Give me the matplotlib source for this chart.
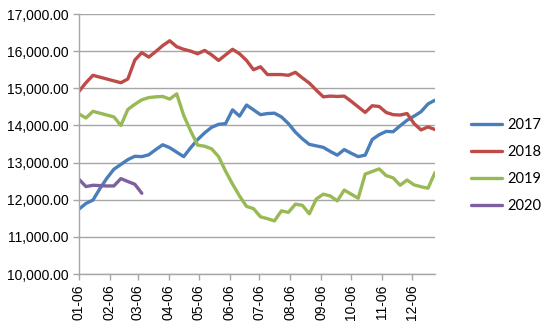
import matplotlib
matplotlib.use("Agg")
import matplotlib.pyplot as plt
import matplotlib.dates as mdates
import pandas as pd

# Weekly price series, one value per week starting 6 January
weeks = pd.date_range("2019-01-06", periods=52, freq="7D")

y2017 = [11745, 11900, 11990, 12300, 12580, 12820, 12950, 13080, 13170, 13160,
         13210, 13350, 13480, 13400, 13280, 13160, 13400, 13620, 13800, 13950,
         14030, 14050, 14420, 14250, 14550, 14420, 14290, 14320, 14330, 14230,
         14050, 13820, 13640, 13490, 13450, 13410, 13300, 13200, 13350, 13250,
         13160, 13200, 13620, 13750, 13840, 13830, 13990, 14140, 14250, 14370,
         14580, 14680]
y2018 = [14917, 15150, 15350, 15300, 15250, 15200, 15150, 15250, 15760, 15960,
         15840, 15990, 16150, 16280, 16120, 16050, 16000, 15930, 16020, 15900,
         15750, 15900, 16050, 15930, 15750, 15500, 15580, 15370, 15370, 15370,
         15350, 15430, 15280, 15140, 14950, 14770, 14790, 14780, 14790, 14650,
         14500, 14350, 14530, 14510, 14350, 14290, 14280, 14320, 14050, 13880,
         13960, 13890]
y2019 = [14310, 14200, 14380, 14330, 14280, 14230, 14000, 14430, 14570, 14690,
         14750, 14770, 14780, 14710, 14850, 14270, 13850, 13470, 13440, 13370,
         13160, 12770, 12420, 12100, 11820, 11760, 11540, 11490, 11430, 11700,
         11660, 11880, 11850, 11620, 12020, 12150, 12100, 11970, 12260, 12150,
         12040, 12690, 12760, 12830, 12650, 12590, 12390, 12530, 12400, 12350,
         12310, 12730]
y2020 = [12549, 12354, 12389, 12380, 12370, 12371, 12568, 12490, 12416, 12174]

series = [("2017", y2017, "#4A7EBB"),
          ("2018", y2018, "#BE4B48"),
          ("2019", y2019, "#98B954"),
          ("2020", y2020, "#7D60A0")]

# Sixth day of every month
month_ticks = [pd.Timestamp(2019, m, 6) for m in range(1, 13)]

fig = plt.figure(figsize=(5.5, 3.26), dpi=100)
ax = fig.add_axes([0.1436, 0.1595, 0.6473, 0.7975])

for name, vals, color in series:
    ax.plot(weeks[:len(vals)], vals, color=color, lw=2.4, label=name,
            solid_joinstyle="round", solid_capstyle="round")

ax.set_ylim(10000, 17000)
ax.set_yticks(range(10000, 17001, 1000))
ax.yaxis.set_major_formatter(matplotlib.ticker.FuncFormatter(lambda v, p: f"{v:,.2f}"))
ax.set_xlim(weeks[0], weeks[-1])
ax.set_xticks(month_ticks)
ax.xaxis.set_major_formatter(mdates.DateFormatter("%m-%d"))

ax.grid(axis="y", color="#A6A6A6", lw=1)
ax.set_axisbelow(True)
for side in ("top", "right"):
    ax.spines[side].set_visible(False)
for side in ("left", "bottom"):
    ax.spines[side].set_color("#A6A6A6")
    ax.spines[side].set_linewidth(1)

ax.tick_params(axis="both", colors="#A6A6A6", length=4, width=1, direction="out")
for lab in ax.get_yticklabels():
    lab.set_color("black")
    lab.set_fontfamily("Liberation Sans")
    lab.set_fontsize(10)
for lab in ax.get_xticklabels():
    lab.set_color("black")
    lab.set_fontfamily("Liberation Sans")
    lab.set_fontsize(10)
    lab.set_rotation(90)

leg = fig.legend(loc="center left", bbox_to_anchor=(0.857, 0.492), frameon=False,
                 handlelength=2.1, handletextpad=0.35, labelspacing=0.9,
                 borderaxespad=0.0, borderpad=0.0,
                 prop={"family": "Lato", "size": 10.5})

fig.savefig("out.png", dpi=100)
